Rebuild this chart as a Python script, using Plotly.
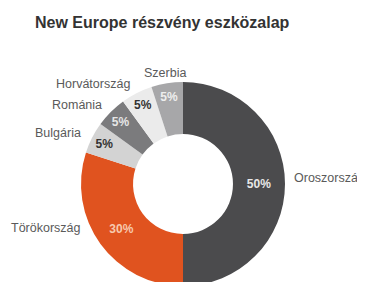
import math
import plotly.graph_objects as go

title = "New Europe részvény eszközalap"
countries = ["Oroszország", "Törökország", "Bulgária", "Románia", "Horvátország", "Szerbia"]
shares = [50, 30, 5, 5, 5, 5]
pct_labels = ["50%", "30%", "5%", "5%", "5%", "5%"]

colors = ["#4b4b4d", "#e0531f", "#d3d3d3", "#7b7b7d", "#ebebeb", "#a7a7a9"]
text_colors = ["#e8e8e8", "#f7c9ae", "#333333", "#e6e6e6", "#333333", "#eeeeee"]

W, H = 365, 282
R = 102
cx, cy = 175, 176   # figure pixel coords (page has an 8px body margin)
dom_x = [(cx - R) / W, (cx + R) / W]
dom_y = [(H - cy - R) / H, (H - cy + R) / H]
FONT = "Liberation Sans, Arial, sans-serif"
LABEL_R = 112          # pixel distance of the category names from the centre
label_nudge = [(-3, -6), (-9, -22), (0, 0), (0, 0), (0, 0), (0, 0)]  # small pixel tweaks

fig = go.Figure()
fig.add_trace(go.Pie(
    values=shares, labels=countries, text=pct_labels,
    textinfo="text", textposition="inside", insidetextorientation="horizontal",
    marker=dict(colors=colors, line=dict(color="white", width=0)),
    textfont=dict(family=FONT, size=12, color=text_colors, weight="bold"),
    hole=0.49, sort=False, direction="clockwise", rotation=0,
    domain=dict(x=dom_x, y=dom_y), showlegend=False, hoverinfo="label+text",
))

# category names placed outside, at each slice's mid angle
total = sum(shares)
cum = 0
annotations = []
for name, v, (nx, ny) in zip(countries, shares, label_nudge):
    mid = (cum + v / 2) / total * 2 * math.pi
    cum += v
    s, c = math.sin(mid), math.cos(mid)
    px = cx + s * LABEL_R + nx
    py = cy - c * LABEL_R + ny
    if s > 0.3:
        xa = "left"
    elif s < -0.3:
        xa = "right"
    else:
        xa = "center"
    annotations.append(dict(
        x=px / W, y=1 - py / H, xref="paper", yref="paper",
        text=name, showarrow=False, xanchor=xa, yanchor="middle",
        font=dict(family=FONT, size=12.5, color="#5a5a5a"),
    ))

fig.update_layout(
    width=W, height=H,
    margin=dict(l=0, r=0, t=0, b=0),
    paper_bgcolor="white", plot_bgcolor="white",
    title=dict(text="<b>" + title + "</b>", x=27 / W, xanchor="left", y=1 - 14 / H, yanchor="middle",
               font=dict(family=FONT, size=16, color="#333333")),
    annotations=annotations,
)

fig.write_html("out.html")
